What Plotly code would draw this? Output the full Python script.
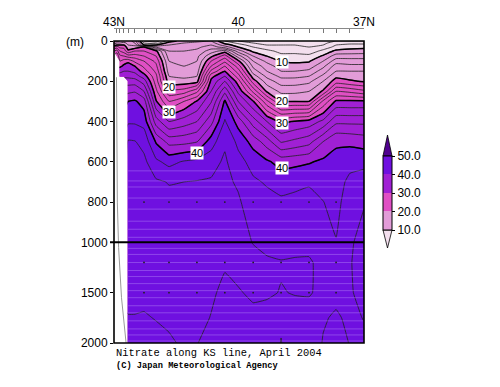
import plotly.graph_objects as go

W, H = 500, 387

latitudes = [43.00, 42.93, 42.86, 42.76, 42.66, 42.50, 42.28, 41.99, 41.68, 41.32, 41.01, 40.67,
             40.34, 40.02, 39.66, 39.33, 38.99, 38.66, 38.32, 37.98, 37.67, 37.34, 37.00]
depths = [0, 10, 20, 30, 50, 75, 100, 125, 150, 175, 200, 250, 300, 400, 500, 600, 700, 800, 1000, 1200, 1500, 1750, 2000]
N = None
nitrate_by_station = [
    [15, 17, 19, 22, 26, N, N, N, N, N, N, N, N, N, N, N, N, N, N, N, N, N, N],
    [15, 18, 20, 23, 27, 30, N, N, N, N, N, N, N, N, N, N, N, N, N, N, N, N, N],
    [16, 18, 20, 21.5, 24, 26.5, 28, 29.5, 31.5, 33, N, N, N, N, N, N, N, N, N, N, N, N, N],
    [17, 18.5, 20, 21.5, 23, 26, 29, 30.5, 32, 33.5, N, N, N, N, N, N, N, N, N, N, N, N, N],
    [17, 17.5, 18, 18.7, 20.5, 25, 29.5, 31, 32, 33.5, 35, 37.5, 40, 41.7, 44.2, 44.6, 44.8, 44.9, 45, 45, 44.6, 43.9, 43],
    [15, 16, 17.5, 19, 22, 25, 27.5, 30, 31.5, 33, 35, 37.8, 40.3, 41.7, 44.1, 44.6, 44.8, 44.9, 45, 45, 44.6, 43.9, 43],
    [6, 8, 10, 20, 22, 24, 26, 27.5, 29, 31, 33, 36, 39, 41.3, 43.3, 44.5, 44.7, 44.9, 45, 45, 44.6, 43.8, 43],
    [5, 7, 10, 14, 20.5, 22, 23.5, 24.5, 25.5, 26.5, 27, 28.5, 30.2, 35, 39.8, 42.4, 44.3, 44.6, 45, 45, 44.8, 44.1, 43.3],
    [9, 11, 12, 13, 14, 15, 16, 16.5, 17, 18, 18.8, 22.5, 26, 32, 37.3, 41.4, 43.9, 44.5, 44.9, 45, 44.9, 44.4, 43.7],
    [11, 12, 12.5, 13, 14, 15, 15.5, 16, 16.5, 17.5, 18.8, 23, 28, 33, 37.4, 42.2, 44, 44.4, 44.8, 45, 45, 44.7, 44.3],
    [11.5, 12.5, 13, 13.5, 14.5, 15.5, 16, 16.5, 17, 18, 19.3, 25.5, 30.2, 34, 37.9, 42.6, 44.1, 44.4, 44.7, 44.9, 44.8, 44.4, 44.05],
    [12, 13, 14, 15, 17, 19.5, 22, 24, 26.5, 29.3, 30.5, 32, 33.8, 37.3, 41, 43.3, 44.2, 44.4, 44.6, 44.6, 44.2, 43.95, 43.5],
    [8, 9.5, 11, 13, 19, 23, 25.5, 28, 30, 32, 34, 37.5, 40.3, 42.2, 43.7, 44.3, 44.5, 44.5, 44.4, 44.15, 43.7, 43.3, 42.8],
    [6, 7.5, 9, 10, 13, 17, 20.5, 23, 25, 27, 29, 31.5, 34, 39.2, 41.5, 42.7, 43.7, 44.3, 44.5, 44.4, 43.9, 43.4, 42.9],
    [5, 6, 7, 8, 9.5, 12, 14, 15.5, 17, 19, 21, 25.5, 30.2, 35, 39.2, 41.3, 42.3, 42.8, 43.95, 44.4, 44.2, 43.7, 43.2],
    [5, 5.5, 6, 7, 8.5, 10, 11.5, 13, 14, 15.5, 17, 19.7, 24.5, 32, 37, 40.3, 41.8, 42.6, 43.4, 44.3, 44.15, 43.6, 43.1],
    [5, 5.5, 6, 6.5, 7.5, 8.5, 9.8, 11, 12, 13.5, 15, 17.5, 20, 29.5, 33.8, 39.3, 41.1, 42.4, 43.3, 44.1, 43.95, 43.8, 44.05],
    [5, 5.5, 6, 6.5, 7.5, 8.5, 9.6, 10.8, 12, 13.5, 15, 17.5, 20, 30.2, 34.5, 39.5, 41.4, 42.6, 43.4, 44.2, 44.05, 43.6, 43.1],
    [4.5, 5, 5.5, 6, 7, 8.5, 9.8, 11, 12.5, 14, 15.5, 18, 20, 30.8, 35.3, 39.8, 41.8, 42.6, 43.5, 44.2, 44.1, 43.5, 43],
    [5, 5.5, 6, 7, 8.5, 10.3, 12, 13.5, 15, 16.5, 18, 20.3, 26.5, 32.5, 38, 40.4, 41.2, 42.05, 42.9, 43.5, 43.7, 43.85, 44.1],
    [6, 7, 8, 8.5, 10.5, 13, 15, 17, 18, 19.5, 21, 26, 30.4, 35.5, 39.8, 40.4, 40.9, 41.3, 42.1, 42.9, 43.6, 44.2, 44.5],
    [6, 7.5, 8.5, 9.3, 10.8, 13, 15, 16.5, 18, 19.2, 20.3, 25.5, 30.4, 35.5, 39.6, 41.2, 42.6, 43.2, 43.8, 43.9, 43.9, 43.7, 43.95],
    [6, 7.5, 8.5, 9.5, 11, 13, 15, 16.5, 18, 19, 19.8, 24.5, 30.4, 35.5, 39.2, 41.4, 43, 43.9, 44.5, 44.6, 44.3, 44.05, 43.7],
]

tick_depths = [0, 200, 400, 600, 800, 1000, 1500, 2000]
tick_depth_labels = ["0", "200", "400", "600", "800", "1000", "1500", "2000"]
lat_ticks = [43.00, 42.93, 42.86, 42.78, 42.66, 42.50, 42.28, 41.99, 41.68, 41.32, 41.01, 40.67,
             40.34, 40.02, 39.66, 39.33, 38.99, 38.66, 38.32, 37.98, 37.67, 37.34, 37.00]
lat_tick_labels = {43.00: "43N", 40.02: "40", 37.00: "37N"}
label_lats = [38.96, 41.68, 41.68, 38.96, 38.96, 41.01, 38.96]
label_depths = [105, 230, 355, 300, 405, 555, 630]
label_texts = ["10", "20", "30", "20", "30", "40", "40"]
band_depths = [645, 695, 725, 780, 835, 895, 935, 975, 1060, 1120, 1200, 1280, 1340, 1410, 1480,
               1550, 1630, 1700, 1780, 1860, 1920, 1980]
sample_lats = [42.28, 41.68, 41.01, 40.34, 39.66, 38.99, 38.32, 37.67]
sample_depths = [800, 1200, 1500]
mask_edge_lats = [42.94, 42.92, 42.89, 42.82, 42.71]
mask_edge_depths = [180, 800, 1050, 1550, 2000]
colorbar_ticks = [10, 20, 30, 40, 50]
colorbar_labels = ["10.0", "20.0", "30.0", "40.0", "50.0"]
fill_colors = ["#F3DFEE", "#E29CD8", "#E04FC4", "#A020D4", "#6F10E0", "#50008F"]


def yax(d):
    return d if d <= 1000 else 1000 + (d - 1000) / 2


y_grid = [yax(d) for d in depths]
z_rows = [list(r) for r in zip(*nitrate_by_station)]
L, R, T, B = 114, 364, 41, 343


def px(v):
    return v / W


def py(v):
    return 1 - v / H


smooth = 0.3
fig = go.Figure()
fig.add_trace(go.Contour(
    x=latitudes, y=y_grid, z=z_rows, showscale=False, connectgaps=False, autocontour=False,
    contours=dict(start=10, end=50, size=10, coloring="fill", showlines=False),
    colorscale=[[i / 5, c] for i, c in enumerate(fill_colors)],
    line=dict(width=0, smoothing=smooth), hoverinfo="skip"))

band_x, band_y = [], []
for d in band_depths:
    band_x += [latitudes[4], latitudes[-1], None]
    band_y += [yax(d), yax(d), None]
fig.add_trace(go.Scatter(x=band_x, y=band_y, mode="lines", showlegend=False, hoverinfo="skip",
                         line=dict(color="rgba(190,150,250,0.4)", width=1)))

fig.add_trace(go.Contour(
    x=latitudes, y=y_grid, z=z_rows, showscale=False, connectgaps=False, autocontour=False,
    contours=dict(start=2, end=50, size=2, coloring="none"),
    line=dict(width=0.8, color="#222222", smoothing=smooth), hoverinfo="skip"))
fig.add_trace(go.Contour(
    x=latitudes, y=y_grid, z=z_rows, showscale=False, connectgaps=False, autocontour=False,
    contours=dict(start=10, end=50, size=10, coloring="none"),
    line=dict(width=1.5, color="#000000", smoothing=smooth), hoverinfo="skip"))

dots_x = [a for a in sample_lats for _ in sample_depths]
dots_y = [yax(d) for _ in sample_lats for d in sample_depths]
fig.add_trace(go.Scatter(x=dots_x, y=dots_y, mode="markers", showlegend=False, hoverinfo="skip",
                         marker=dict(size=1.8, color="#222")))
fig.add_trace(go.Scatter(x=mask_edge_lats, y=[yax(d) for d in mask_edge_depths], mode="lines",
                         showlegend=False, hoverinfo="skip", line=dict(color="#999", width=1)))

stepped = []
for i, c in enumerate(fill_colors[1:5]):
    stepped += [[i / 4, c], [(i + 1) / 4, c]]
fig.add_trace(go.Scatter(
    x=[None], y=[None], mode="markers", showlegend=False, hoverinfo="skip",
    marker=dict(color=[10], cmin=10, cmax=50, colorscale=stepped, showscale=True,
                colorbar=dict(x=px(383), xanchor="left", xpad=0, ypad=0,
                              y=py(193), yanchor="middle", len=74, lenmode="pixels",
                              thickness=9, thicknessmode="pixels", outlinecolor="#000", outlinewidth=1,
                              tickvals=colorbar_ticks, ticktext=colorbar_labels, ticks="outside",
                              ticklen=3, tickcolor="#000",
                              tickfont=dict(family="Liberation Sans", size=12, color="#000")))))

shapes = [
    dict(type="rect", xref="paper", yref="paper", x0=px(L), x1=px(R), y0=py(B), y1=py(T),
         line=dict(color="#000", width=1.6)),
    dict(type="line", xref="paper", yref="y", x0=px(110), x1=px(R), y0=yax(1000), y1=yax(1000),
         line=dict(color="#000", width=2)),
    dict(type="path", xref="paper", yref="paper",
         path=f"M {px(383)} {py(156)} L {px(392)} {py(156)} L {px(387.5)} {py(135)} Z",
         fillcolor=fill_colors[5], line=dict(color="#000", width=0.8)),
    dict(type="path", xref="paper", yref="paper",
         path=f"M {px(383)} {py(230)} L {px(392)} {py(230)} L {px(387.5)} {py(248)} Z",
         fillcolor=fill_colors[0], line=dict(color="#000", width=0.8)),
]

annotations = [
    dict(x=a, y=yax(d), xref="x", yref="y", text=t, showarrow=False, bgcolor="#fff", borderpad=0,
         font=dict(family="Liberation Sans", size=11, color="#000"))
    for a, d, t in zip(label_lats, label_depths, label_texts)
]
annotations += [
    dict(x=px(75), y=py(42), xref="paper", yref="paper", xanchor="center", yanchor="middle", text="(m)", showarrow=False,
         font=dict(family="Liberation Sans", size=12, color="#000")),
    dict(x=px(114), y=py(353), xref="paper", yref="paper", xanchor="left", yanchor="middle",
         text="Nitrate along KS line, April 2004",
         showarrow=False, font=dict(family="Liberation Mono", size=10.4, color="#000")),
    dict(x=px(114), y=py(366), xref="paper", yref="paper", xanchor="left", yanchor="middle",
         text="<b>(C) Japan Meteorological Agency</b>",
         showarrow=False, font=dict(family="Liberation Mono", size=8.7, color="#000")),
]

fig.update_layout(
    width=W, height=H, margin=dict(l=0, r=0, t=0, b=0, autoexpand=False), paper_bgcolor="#fff", plot_bgcolor="#fff",
    showlegend=False, shapes=shapes, annotations=annotations,
    xaxis=dict(domain=[px(L), px(R)], range=[43, 37], side="top", anchor="free", position=py(28),
               tickmode="array", tickvals=lat_ticks,
               ticktext=[lat_tick_labels.get(v, "") for v in lat_ticks],
               ticks="inside", ticklen=4, tickcolor="#777", tickwidth=1, ticklabelstandoff=-3,
               showline=True, linecolor="#888", linewidth=1, showgrid=False, zeroline=False,
               tickangle=0, tickfont=dict(family="Liberation Sans", size=12, color="#000")),
    yaxis=dict(domain=[py(B), py(T)], range=[yax(2000), 0],
               tickmode="array", tickvals=[yax(d) for d in tick_depths], ticktext=tick_depth_labels,
               ticks="outside", ticklen=3, tickcolor="#000", showgrid=False, zeroline=False, showline=False,
               tickfont=dict(family="Liberation Sans", size=12, color="#000")),
)
fig.write_html("out.html", config={"displayModeBar": False}, post_script="document.body.style.margin='0';")
